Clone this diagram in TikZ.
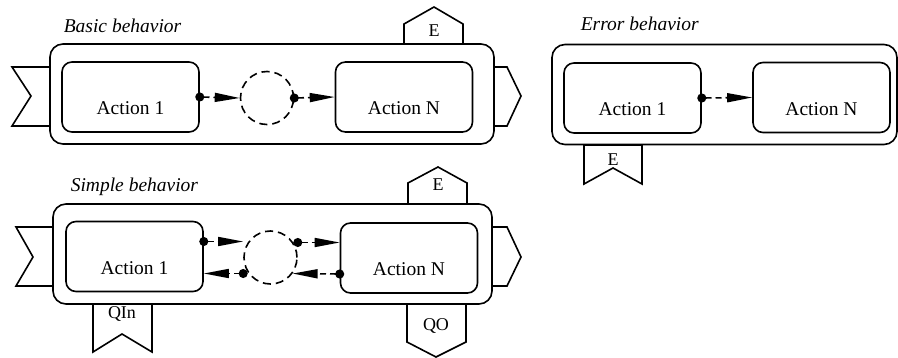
\documentclass[tikz,border=0pt]{standalone}
\usepackage{fontspec}
\setmainfont{Liberation Serif}
\usetikzlibrary{shapes,arrows.meta,positioning}

\begin{document}
\begin{tikzpicture}[x=1pt,y=-1pt,line width=1.6pt,
	behavior/.style={draw, rounded corners=13pt, minimum height=100pt},
	action/.style={draw, rounded corners=10pt, minimum width=137pt, minimum height=70pt,
		text height=36pt, text depth=0pt, font=\fontsize{19.5}{20}\selectfont},
	junction/.style={draw, circle, dash pattern=on 8pt off 5pt, minimum size=53pt},
	port/.style={draw, fill=white, line join=miter},
	portname/.style={font=\fontsize{18}{19}\selectfont, inner sep=0pt},
	title/.style={anchor=base west, inner sep=0pt, font=\fontsize{19.5}{20}\selectfont\itshape},
	flow/.style={dash pattern=on 6pt off 4pt, shorten <=-4.5pt,
		{Circle[length=9pt]}-{Triangle[length=25pt,width=9pt]}}]
	\useasboundingbox (0,0) rectangle (898,358);

	% ports first, so the border of the behavior box lies on top of them
	\draw[port] (50,67) -- (12,67) -- (31,96) -- (12,126) -- (50,126) -- cycle; % input, notch on the left
	\draw[port] (494,67) -- (507,67) -- (521,96) -- (507,126) -- (494,126) -- cycle; % output, point on the right
	\draw[port] (404,44) -- (404,24) -- (434,7) -- (463,24) -- (463,44) -- cycle;
	\node[portname] (basicE) at (434,31) {E};

	\draw[port] (53,227) -- (16,227) -- (33,257) -- (16,286) -- (53,286) -- cycle;
	\draw[port] (492,227) -- (507,227) -- (521,257) -- (507,286) -- (492,286) -- cycle;
	\draw[port] (408,204) -- (408,183) -- (438,167) -- (467,183) -- (467,204) -- cycle;
	\draw[port] (93,304) -- (93,352) -- (122,334) -- (152,352) -- (152,304) -- cycle; % queue in
	\draw[port] (407,304) -- (407,342) -- (436,357) -- (466,342) -- (466,304) -- cycle; % queue out
	\node[portname] (simpleE) at (438,185) {E};
	\node[portname] (qin) at (122,314) {QIn};
	\node[portname] (qout) at (436,326) {QO};

	\draw[port] (584,145) -- (584,184) -- (613,168) -- (642,184) -- (642,145) -- cycle;
	\node[portname] (errorE) at (613,160) {E};

	% basic behavior
	\node[behavior, minimum width=444pt] (basic) at (272,94) {};
	\node[title] (basiclbl) at (63,33) {Basic behavior};
	\node[action] (b1) at (130.5,97) {Action 1};
	\node[action] (bN) at (404,97) {Action N};
	\node[junction] (j1) at (267,98) {};
	\draw[flow] (b1.east) -- (j1.west);
	\draw[flow] (j1.east) -- (bN.west);

	% simple behavior, flows go both ways
	\node[behavior, minimum width=439pt] (simple) at (272.5,254) {};
	\node[title] (simplelbl) at (70,192) {Simple behavior};
	\node[action] (s1) at (134.5,256.5) {Action 1};
	\node[action] (sN) at (409,258) {Action N};
	\node[junction] (j2) at (270.5,257.5) {};
	\draw[flow] ([yshift=15pt]s1.east) -- ([yshift=15pt]s1.east -| j2.west);
	\draw[flow] ([yshift=15pt]j2.east) -- ([yshift=15pt]j2.east -| sN.west);
	\draw[flow] ([yshift=-16pt]sN.west) -- (j2.-36);
	\draw[flow] ([yshift=-16pt]j2.west) -- ([yshift=-16pt]j2.west -| s1.east);

	% error behavior
	\node[behavior, minimum width=345pt] (error) at (724.5,94.5) {};
	\node[title] (errorlbl) at (580,31) {Error behavior};
	\node[action] (e1) at (632.5,98) {Action 1};
	\node[action] (eN) at (821.5,97.5) {Action N};
	\draw[flow] (e1.east) -- (eN.west);

\end{tikzpicture}
\end{document}
